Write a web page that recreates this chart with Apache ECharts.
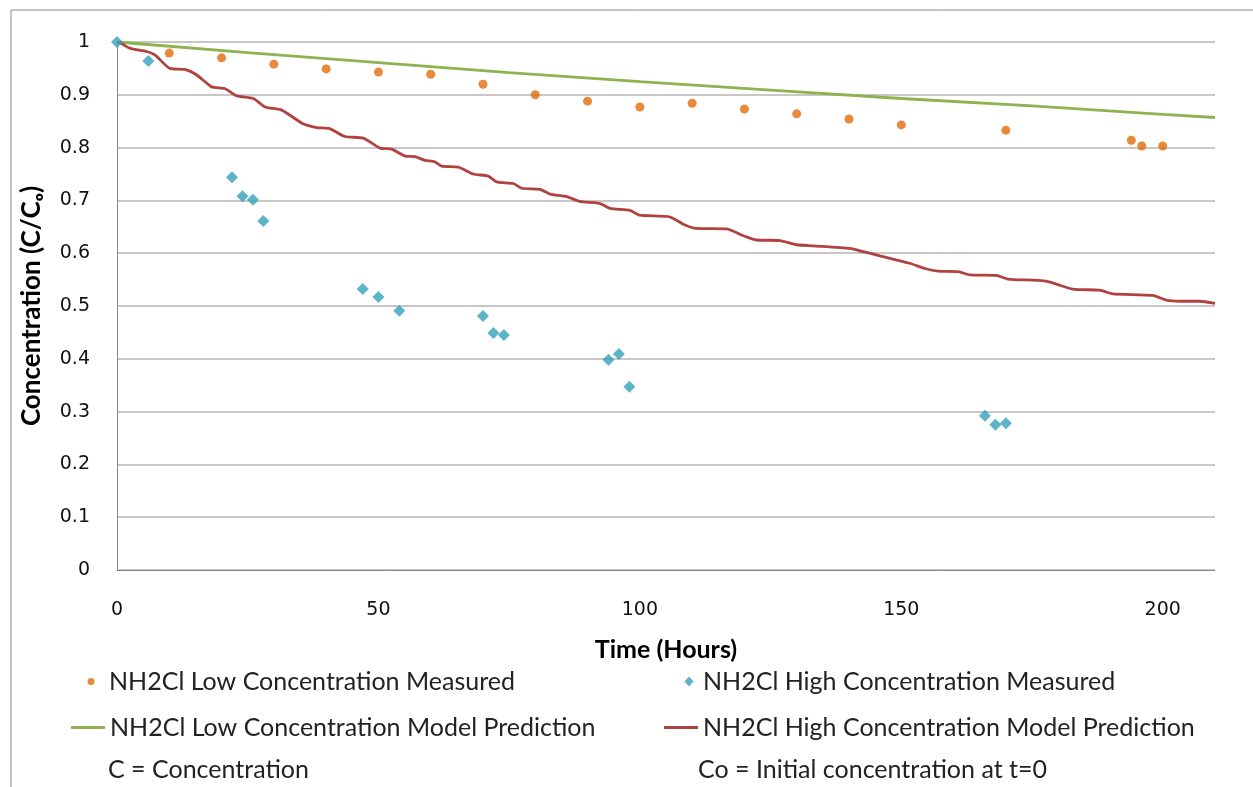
<!DOCTYPE html>
<html>
<head>
<meta charset="utf-8">
<script src="https://cdn.jsdelivr.net/npm/echarts@6/dist/echarts.min.js"></script>
<style>
html,body{margin:0;padding:0;background:#fff}
#main{width:1253px;height:787px}
</style>
</head>
<body>
<div id="main"></div>
<script>
// 数据
var lowTime = [10, 20, 30, 40, 50, 60, 70, 80, 90, 100, 110, 120, 130, 140, 150, 170, 194, 196, 200]
var lowConc = [0.979, 0.970, 0.958, 0.949, 0.943, 0.939, 0.920, 0.900, 0.888, 0.877, 0.884, 0.873, 0.864, 0.854, 0.843, 0.833, 0.814, 0.803, 0.803]

var highTime = [0, 6, 22, 24, 26, 28, 47, 50, 54, 70, 72, 74, 94, 96, 98, 166, 168, 170]
var highConc = [1, 0.964, 0.744, 0.708, 0.701, 0.661, 0.532, 0.517, 0.491, 0.481, 0.449, 0.445, 0.398, 0.409, 0.347, 0.292, 0.275, 0.278]

var lowModelTime = [0, 25, 50, 75, 100, 125, 150, 175, 200, 210]
var lowModelConc = [1.0, 0.980, 0.961, 0.942, 0.925, 0.909, 0.893, 0.879, 0.863, 0.857]

var highModelTime = [0, 0.6, 2.5, 5.7, 7.3, 10.1, 13, 15.2, 18.1, 20.6, 22.9, 26.1, 28.3, 31.5, 35.6, 38.2, 40.7, 43.6, 47.1, 50.3, 52.5, 55.1, 57, 58.9, 60.8, 62.1, 65.3, 68.1, 71, 72.6, 75.8, 77.4, 80.9, 82.8, 86, 88.5, 92.4, 94.3, 98.1, 100, 105.7, 108.3, 110.8, 116.6, 119.8, 122.3, 126.8, 130, 133.1, 140.2, 142.7, 145.9, 151.6, 154.5, 157, 160.9, 163.1, 168.2, 170.4, 177.7, 182.8, 187.9, 190.5, 198.1, 200.7, 203.3, 207.1, 210]
var highModelConc = [1, 0.998, 0.988, 0.982, 0.975, 0.950, 0.948, 0.938, 0.915, 0.912, 0.898, 0.893, 0.877, 0.871, 0.845, 0.838, 0.836, 0.821, 0.818, 0.799, 0.797, 0.784, 0.783, 0.776, 0.773, 0.765, 0.763, 0.750, 0.746, 0.735, 0.732, 0.723, 0.721, 0.712, 0.707, 0.698, 0.694, 0.685, 0.681, 0.672, 0.669, 0.655, 0.647, 0.646, 0.633, 0.625, 0.624, 0.616, 0.614, 0.609, 0.603, 0.595, 0.581, 0.571, 0.566, 0.565, 0.559, 0.558, 0.551, 0.547, 0.532, 0.530, 0.523, 0.520, 0.511, 0.509, 0.509, 0.505]

var xTicks = [0, 50, 100, 150, 200]
var yTicks = [0, 0.1, 0.2, 0.3, 0.4, 0.5, 0.6, 0.7, 0.8, 0.9, 1]

function pairs(xs, ys){
	var out = []
	for (var k = 0; k < xs.length; k++) out.push([xs[k], ys[k]])
	return out
}

var names = [
	'NH2Cl Low Concentration Measured',
	'NH2Cl High Concentration Measured',
	'NH2Cl Low Concentration Model Prediction',
	'NH2Cl High Concentration Model Prediction'
]
var cOrange = '#e46c0a'
var cTeal = '#35a1ba'
var cGreen = '#8db24e'
var cRed = '#b0423f'
var fontTxt = 'Lato, "Open Sans", sans-serif'

// 图例小图标 (34x22 的框, M0,0 M34,22 撑开边界)
var box = 'M0,0 M34,22 '
var iconDot = 'path://' + box + 'M17.5,11 A3.5,3.5 0 1 1 24.5,11 A3.5,3.5 0 1 1 17.5,11 Z'
var iconDiamond = 'path://' + box + 'M25,6 L29.5,11 L25,16 L20.5,11 Z'
var iconLine = 'path://' + box + 'M0,9.6 L34,9.6 L34,12.4 L0,12.4 Z'

var chart = echarts.init(document.getElementById('main'))

var legendText = {fontFamily: fontTxt, fontSize: 25, color: '#222'}
function oneLegend(name, icon, left, top){
	return {
		data: [{name: name, icon: icon}],
		left: left, top: top, padding: 0,
		itemWidth: 34, itemHeight: 22, textStyle: legendText,
		selectedMode: false
	}
}

chart.setOption({
	animation: false,
	grid: {left: 117, right: 38, top: 42, bottom: 217},
	xAxis: {
		type: 'value', min: 0, max: 210, interval: 50,
		name: 'Time (Hours)', nameLocation: 'middle', nameGap: 67,
		nameTextStyle: {fontFamily: fontTxt, fontSize: 25, fontWeight: 'bold', color: '#000'},
		axisLine: {show: true, lineStyle: {color: '#888', width: 1}},
		axisTick: {show: false},
		splitLine: {show: false},
		axisLabel: {
			fontFamily: 'DejaVu Sans', fontSize: 19, color: '#111', margin: 31,
			formatter: function(v){ return xTicks.indexOf(v) >= 0 ? String(v) : '' }
		}
	},
	yAxis: {
		type: 'value', min: 0, max: 1, interval: 0.1,
		name: 'Concentration (C/Cₒ)', nameLocation: 'middle', nameGap: 72, nameRotate: 90,
		nameTextStyle: {fontFamily: fontTxt, fontSize: 26, fontWeight: 'bold', color: '#000'},
		axisLine: {show: true, lineStyle: {color: '#888', width: 1}},
		axisTick: {show: false},
		splitLine: {show: true, lineStyle: {color: '#b4b4b4', width: 1.5}},
		axisLabel: {
			fontFamily: 'DejaVu Sans', fontSize: 19, color: '#111', margin: 27,
			formatter: function(v){
				var r = Math.round(v * 10) / 10
				return yTicks.indexOf(r) >= 0 ? String(r) : ''
			}
		}
	},
	legend: [
		oneLegend(names[0], iconDot, 70, 669),
		oneLegend(names[2], iconLine, 71, 715),
		oneLegend(names[1], iconDiamond, 664, 669),
		oneLegend(names[3], iconLine, 664, 715)
	],
	graphic: [
		{type: 'rect', shape: {x: 11, y: 10, width: 1300, height: 900}, style: {fill: 'none', stroke: '#8a8a8a', lineWidth: 1}, silent: true, z: -10},
		{type: 'text', left: 108, top: 757, style: {text: 'C = Concentration', font: '25px ' + fontTxt, fill: '#222'}},
		{type: 'text', left: 698, top: 757, style: {text: 'Co = Initial concentration at t=0', font: '25px ' + fontTxt, fill: '#222'}}
	],
	series: [{
		name: names[2], type: 'line', data: pairs(lowModelTime, lowModelConc),
		showSymbol: false, symbol: 'none', lineStyle: {color: cGreen, width: 2.8}, itemStyle: {color: cGreen}, z: 2
	}, {
		name: names[3], type: 'line', data: pairs(highModelTime, highModelConc),
		showSymbol: false, symbol: 'none', smooth: 0.2, lineStyle: {color: cRed, width: 2.8}, itemStyle: {color: cRed}, z: 2
	}, {
		name: names[0], type: 'scatter', data: pairs(lowTime, lowConc),
		symbol: 'circle', symbolSize: 9, itemStyle: {color: cOrange}, z: 3
	}, {
		name: names[1], type: 'scatter', data: pairs(highTime, highConc),
		symbol: 'diamond', symbolSize: 12, itemStyle: {color: cTeal}, z: 3
	}]
})
</script>
</body>
</html>
